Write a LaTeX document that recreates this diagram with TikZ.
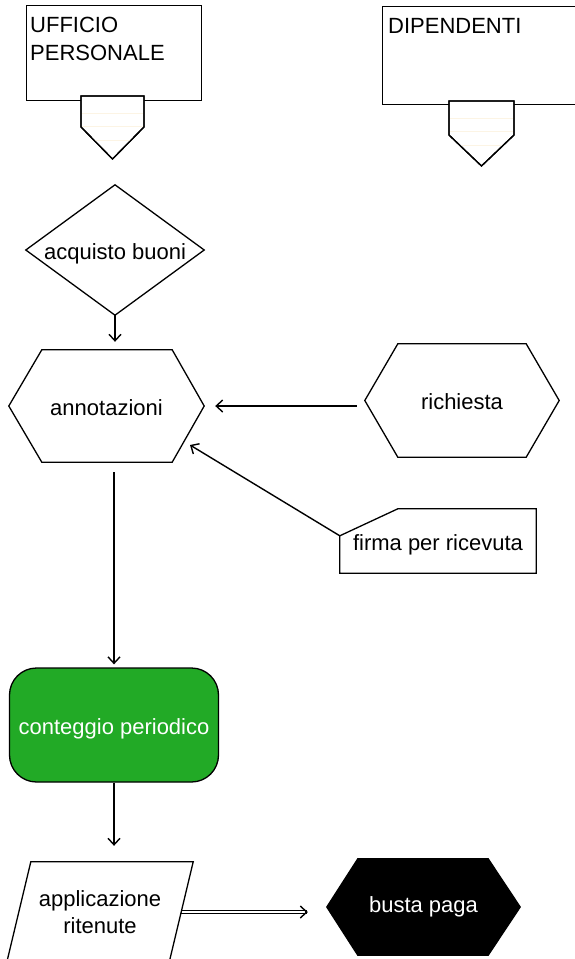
\documentclass[tikz,border=0pt]{standalone}
\usepackage{fontspec}
\setmainfont{Liberation Sans}
\usetikzlibrary{arrows.meta,backgrounds,calc}
\definecolor{cgreen}{RGB}{34,170,38}
\definecolor{faint}{RGB}{252,244,228}
\begin{document}
\begin{tikzpicture}[x=1pt,y=-1pt,
  every node/.style={font=\fontsize{22}{27.5}\selectfont},
  lbl/.style={inner sep=0pt, align=center},
  one/.style={text height=18pt, text depth=0pt},
  shp/.style={draw=black, line width=1.3pt, fill=white, line join=miter},
  arr/.style={draw=black, line width=1.4pt, -{Straight Barb[length=6.5pt,width=12pt]}},
  thin2/.style={draw=black, line width=0.9pt},
  ]
\useasboundingbox (0,0) rectangle (575,959);
\clip (0,0) rectangle (575,959);

% ---------- nodes (text + anchors) ----------
\node[lbl, minimum width=174, minimum height=94] (uff) at (114,53) {};
\node[lbl, align=left, anchor=north west] (ufft) at (30,17) {UFFICIO\\PERSONALE};
\node[lbl, minimum width=200, minimum height=97] (dip) at (483,55.5) {};
\node[lbl, anchor=north west] (dipt) at (388,18) {DIPENDENTI};

\node[lbl, one, minimum width=178, minimum height=130] (acq) at (115,250) {acquisto buoni};
\node[lbl, one, minimum width=195, minimum height=112] (ann) at (106.5,406) {annotazioni};
\node[lbl, one, minimum width=194, minimum height=113] (ric) at (462,400.5) {richiesta};
\node[lbl, one, minimum width=196, minimum height=64] (firma) at (438,541) {firma per ricevuta};
\node[draw=black, line width=1.3pt, fill=cgreen, rounded corners=27pt, text=white,
      lbl, one, minimum width=209, minimum height=114] (cont) at (114,725) {conteggio periodico};
\node[lbl, minimum width=162, minimum height=100] (app) at (100,912) {applicazione\\ritenute};
\node[lbl, text=white, text height=10pt, text depth=0pt, minimum width=193, minimum height=96] (busta) at (423.5,907) {busta paga};

% ---------- shapes ----------
\begin{pgfonlayer}{background}
  \fill[white] (0,0) rectangle (575,959);
  % rectangles
  \draw[shp] (uff.north west) rectangle (uff.south east);
  \draw[shp] (dip.north west) rectangle (dip.south east);
  % off-page connectors
  \draw[shp] (81,96) -- (144,96) -- (144,127) -- (112.5,159) -- (81,127) -- cycle;
  \draw[faint, line width=0.8pt] (82,113) -- (143,113) (82,126) -- (143,126) (95,140) -- (130,140);
  \draw[shp, fill=none] (81,96) -- (144,96) -- (144,127) -- (112.5,159) -- (81,127) -- cycle;
  \draw[shp] (449,101) -- (514,101) -- (514,135) -- (481.5,166) -- (449,135) -- cycle;
  \draw[faint, line width=0.8pt] (450,118) -- (513,118) (450,131) -- (513,131) (462,145) -- (501,145);
  \draw[shp, fill=none] (449,101) -- (514,101) -- (514,135) -- (481.5,166) -- (449,135) -- cycle;
  % decision
  \draw[shp] (acq.north) -- (acq.east) -- (acq.south) -- (acq.west) -- cycle;
  % hexagons
  \draw[shp] (ann.west) -- ([xshift=33]ann.north west) -- ([xshift=-32]ann.north east)
     -- (ann.east) -- ([xshift=-32]ann.south east) -- ([xshift=33]ann.south west) -- cycle;
  \draw[shp] (ric.west) -- ([xshift=33]ric.north west) -- ([xshift=-33]ric.north east)
     -- (ric.east) -- ([xshift=-33]ric.south east) -- ([xshift=33]ric.south west) -- cycle;
  \draw[shp, fill=black] (busta.west) -- ([xshift=31]busta.north west) -- ([xshift=-32]busta.north east)
     -- (busta.east) -- ([xshift=-32]busta.south east) -- ([xshift=31]busta.south west) -- cycle;
  % document with cut corner
  \draw[shp] ([yshift=-27]firma.north west) -- ([xshift=58]firma.north west) -- (firma.north east)
     -- (firma.south east) -- (firma.south west) -- cycle;
  % parallelogram
  \draw[shp] ([xshift=12]app.north west) -- ([xshift=12]app.north east)
     -- ([xshift=-12]app.south east) -- ([xshift=-12]app.south west) -- cycle;
\end{pgfonlayer}

% ---------- connectors ----------
\coordinate (fn) at ([yshift=-27]firma.north west);
\coordinate (fT) at (190,445);
\coordinate (bT) at ([xshift=-19]busta.west |- app.east);
\draw[arr] (acq.south) -- ([yshift=8]acq.south |- ann.north);
\draw[arr] ([xshift=-8]ric.west |- ann.east) -- ([xshift=11]ann.east);
\draw[arr] (fn) -- (fT);
\draw[arr] ([yshift=-10]ann.south -| cont.north) -- ([yshift=3]cont.north);
\draw[arr] (cont.south) -- ([yshift=16]app.north -| cont.south);
\draw[thin2] ([yshift=1.1]app.east) -- ([xshift=-1,yshift=1.1]bT);
\draw[thin2] ([yshift=-1.1]app.east) -- ([xshift=-1,yshift=-1.1]bT);
\draw[arr] ([xshift=-3]bT) -- (bT);
\end{tikzpicture}
\end{document}
